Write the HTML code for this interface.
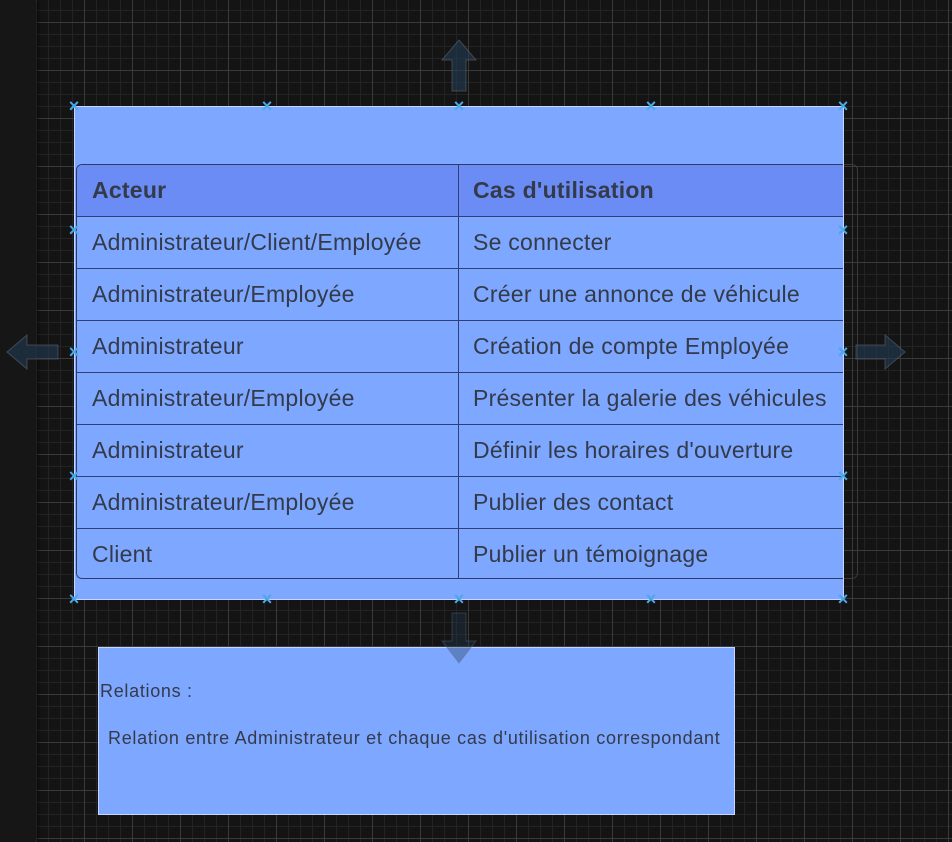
<!DOCTYPE html>
<html><head><meta charset="utf-8"><style>
*{margin:0;padding:0;box-sizing:border-box}
body{width:952px;height:842px;overflow:hidden;background-color:#141414;font-family:"Liberation Sans",Arial,sans-serif;position:relative;
background-image:linear-gradient(#3a3a3a 1px,transparent 1px),linear-gradient(90deg,#3a3a3a 1px,transparent 1px),linear-gradient(#232323 1px,transparent 1px),linear-gradient(90deg,#232323 1px,transparent 1px);
background-size:48px 48px,48px 48px,12px 12px,12px 12px;background-position:0 22px,36px 0,0 10px,0 0}
.strip{position:absolute;left:0;top:0;width:36px;height:842px;background:#161616;box-shadow:2px 0 4px rgba(0,0,0,.6)}
.abs{position:absolute}
.main{left:74px;top:106px;width:770px;height:494px;background:#7ea7ff;border:1px solid #c8d6ff}
.outer{left:76px;top:164px;width:782px;height:415px;border:1px solid #3a3a3a;border-radius:6px}
.tbl{left:76px;top:164px;width:767px;height:415px;border:1px solid #2d3a6a;border-right:none;border-radius:6px 0 0 6px;overflow:hidden}
.row{position:absolute;left:0;width:767px;height:52px;border-top:1px solid #2f3f7a;background:#7ea7ff}
.row span{position:absolute;top:0;line-height:51px;font-size:23px;letter-spacing:0.25px;color:#333a4a;white-space:nowrap}
.row .a{left:15px}.row .b{left:396px}
.hd{background:#6b8cf4;border-top:none}
.hd span{font-weight:bold}
.div{position:absolute;left:381px;top:0;width:1px;height:415px;background:#2f3f7a}
.x{position:absolute;color:#4aa8e8;font-size:18px;line-height:12px;width:12px;text-align:center;font-weight:bold}
.bot{left:98px;top:647px;width:637px;height:168px;background:#7ea7ff;border:1px solid #c8d6ff;color:#333a4a;font-size:18px;letter-spacing:0.7px}
</style></head><body>
<div class="strip"></div>

<div class="abs outer"></div>
<div class="abs main"></div>
<div class="abs tbl">
<div class="row hd" style="top:0"><span class="a">Acteur</span><span class="b">Cas d'utilisation</span></div>
<div class="row" style="top:51px"><span class="a">Administrateur/Client/Employée</span><span class="b">Se connecter</span></div>
<div class="row" style="top:103px"><span class="a">Administrateur/Employée</span><span class="b">Créer une annonce de véhicule</span></div>
<div class="row" style="top:155px"><span class="a">Administrateur</span><span class="b">Création de compte Employée</span></div>
<div class="row" style="top:207px"><span class="a">Administrateur/Employée</span><span class="b">Présenter la galerie des véhicules</span></div>
<div class="row" style="top:259px"><span class="a">Administrateur</span><span class="b">Définir les horaires d'ouverture</span></div>
<div class="row" style="top:311px"><span class="a">Administrateur/Employée</span><span class="b">Publier des contact</span></div>
<div class="row" style="top:363px"><span class="a">Client</span><span class="b">Publier un témoignage</span></div>
<div class="div"></div>
</div>

<div class="abs bot">
<div class="abs" style="left:1px;top:33px">Relations :</div>
<div class="abs" style="left:9px;top:80px;white-space:nowrap">Relation entre Administrateur et chaque cas d'utilisation correspondant</div>
</div>

<svg class="abs" style="left:0;top:0" width="952" height="842">
<g fill="rgba(35,60,85,0.6)" stroke="rgba(90,100,110,0.6)" stroke-width="1">
<polygon points="459,40 476,60 466,60 466,91 452,91 452,60 442,60"/>
<polygon points="7,352 27,335 27,345 58,345 58,359 27,359 27,369"/>
<polygon points="905,352 885,335 885,345 856,345 856,359 885,359 885,369"/>
</g>
<polygon points="459,663 476,641 466,641 466,613 452,613 452,641 442,641" fill="rgba(35,60,85,0.35)" stroke="rgba(90,110,130,0.4)"/>
</svg>

<div class="x" style="left:68px;top:100px">×</div>
<div class="x" style="left:261px;top:100px">×</div>
<div class="x" style="left:453px;top:100px">×</div>
<div class="x" style="left:645px;top:100px">×</div>
<div class="x" style="left:837px;top:100px">×</div>
<div class="x" style="left:68px;top:224px">×</div>
<div class="x" style="left:837px;top:224px">×</div>
<div class="x" style="left:68px;top:346px">×</div>
<div class="x" style="left:837px;top:346px">×</div>
<div class="x" style="left:68px;top:470px">×</div>
<div class="x" style="left:837px;top:470px">×</div>
<div class="x" style="left:68px;top:593px">×</div>
<div class="x" style="left:261px;top:593px">×</div>
<div class="x" style="left:453px;top:593px">×</div>
<div class="x" style="left:645px;top:593px">×</div>
<div class="x" style="left:837px;top:593px">×</div>
</body></html>
